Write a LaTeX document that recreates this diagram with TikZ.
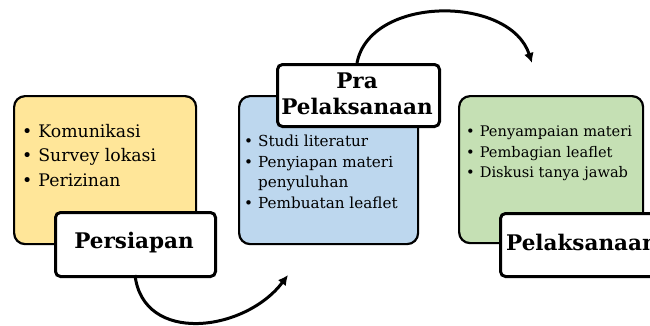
\documentclass[tikz,border=0pt]{standalone}
\usepackage{fontspec}
\setmainfont{DejaVu Serif}
\usetikzlibrary{arrows.meta}
\definecolor{yel}{HTML}{FFE699}
\definecolor{blu}{HTML}{BDD7EE}
\definecolor{grn}{HTML}{C5E0B4}
\begin{document}
\begin{tikzpicture}[x=1pt,y=-1pt,
  phase/.style={draw=black, line width=2.2pt, rounded corners=11pt, anchor=north west, inner sep=0pt},
  tag/.style={draw=black, line width=3pt, fill=white, rounded corners=5pt, anchor=north west, inner sep=0pt},
  tagtext/.style={font=\fontsize{21.5}{26}\selectfont\bfseries, align=center, inner sep=0pt},
  items/.style={align=left, anchor=north west, inner sep=0pt},
  flow/.style={line width=3pt, -{Latex[length=10pt,width=10pt]}}]
\useasboundingbox (0,0) rectangle (650,325);
\clip (0,0) rectangle (650,325);
% boxes
\node[phase, fill=yel, minimum width=182pt, minimum height=148pt] (b1) at (13,95) {};
\node[phase, fill=blu, minimum width=179pt, minimum height=148pt] (b2) at (238,95) {};
\node[phase, fill=grn, minimum width=184pt, minimum height=147pt] (b3) at (458,95) {};
% items
\node[items, font=\fontsize{17.3}{24.5}\selectfont] (t1) at (22,124)
  {\textbullet\hspace{6pt}Komunikasi\\ \textbullet\hspace{6pt}Survey lokasi\\ \textbullet\hspace{6pt}Perizinan};
\node[items, font=\fontsize{15.2}{20.5}\selectfont] (t2) at (244,135)
  {\textbullet\hspace{5pt}Studi literatur\\ \textbullet\hspace{5pt}Penyiapan materi\\ \phantom{\textbullet}\hspace{5pt}penyuluhan\\ \textbullet\hspace{5pt}Pembuatan leaflet};
\node[items, font=\fontsize{14.6}{20.5}\selectfont] (t3) at (466,126)
  {\textbullet\hspace{5pt}Penyampaian materi\\ \textbullet\hspace{5pt}Pembagian leaflet\\ \textbullet\hspace{5pt}Diskusi tanya jawab};
% tags
\node[tag, minimum width=160pt, minimum height=64pt] (l1) at (54,211) {};
\node[tagtext] (l1t) at (134,243) {Persiapan};
\node[tag, minimum width=162pt, minimum height=62pt] (l2) at (276,63) {};
\node[tagtext] (l2t) at (357,94) {Pra\\Pelaksanaan};
\node[tag, minimum width=170pt, minimum height=63pt] (l3) at (499,212) {};
\node[tagtext, anchor=base west] (l3t) at (506,250) {Pelaksanaan};
% arrows
\coordinate (a1s) at (135,275);
\coordinate (a1e) at (288,275);
\coordinate (a2s) at (357,63);
\coordinate (a2e) at (532,63);
\draw[flow] (a1s) .. controls (143,345) and (245,332) .. (a1e);
\draw[flow] (a2s) .. controls (370,-5) and (510,-5) .. (a2e);
\end{tikzpicture}
\end{document}
